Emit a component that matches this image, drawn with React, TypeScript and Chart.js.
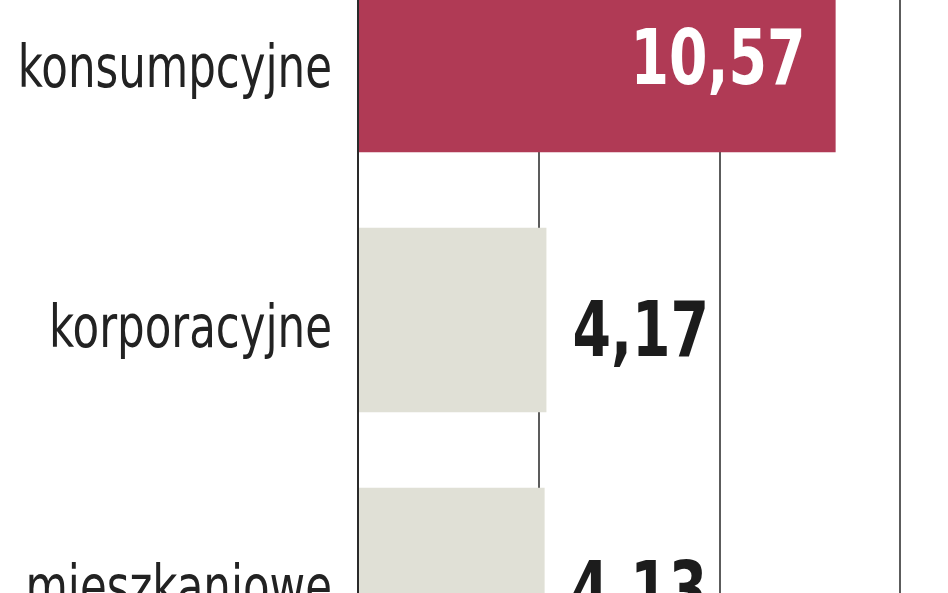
import { useEffect, useRef } from 'react';
import Chart from 'chart.js/auto';

// Loan types and their values
const categories = ['konsumpcyjne', 'korporacyjne', 'mieszkaniowe'];
const values = [10.57, 4.17, 4.13];
const xTicks = [0, 4, 8, 12];

const HIGHLIGHT = '#b03a55';
const PLAIN = '#e0e0d6';
const LABEL_FONT = '"DejaVu Sans Condensed", "DejaVu Sans", sans-serif';

// Category names left of the axis, squeezed to look like a condensed face
const categoryLabels = {
    id: 'categoryLabels',
    afterDraw(chart: any) {
        const ctx = chart.ctx;
        const yScale = chart.scales.y;
        const right = chart.chartArea.left - 26;
        const squeeze = 0.82;
        ctx.save();
        ctx.font = `59px ${LABEL_FONT}`;
        ctx.fillStyle = '#222222';
        ctx.textAlign = 'right';
        ctx.textBaseline = 'alphabetic';
        yScale.getLabels().forEach((label: string, i: number) => {
            const y = yScale.getPixelForTick(i);
            ctx.save();
            ctx.translate(right, y + 27);
            ctx.scale(squeeze, 1);
            ctx.fillText(label, 0, 0);
            ctx.restore();
        });
        ctx.restore();
    }
};

// Draws the value next to (or inside) each bar
const valueLabels = {
    id: 'valueLabels',
    afterDatasetsDraw(chart: any) {
        const ctx = chart.ctx;
        const meta = chart.getDatasetMeta(0);
        const squeeze = 0.81;
        ctx.save();
        ctx.font = `bold 76px ${LABEL_FONT}`;
        ctx.textBaseline = 'alphabetic';
        meta.data.forEach((bar: any, i: number) => {
            const text = values[i].toFixed(2).replace('.', ',');
            ctx.save();
            if (i === 0) {
                ctx.fillStyle = '#ffffff';
                ctx.textAlign = 'right';
                ctx.translate(bar.x - 30, bar.y + 24);
            } else {
                ctx.fillStyle = '#1c1c1c';
                ctx.textAlign = 'left';
                ctx.translate(bar.x + 26, bar.y + 36);
            }
            ctx.scale(squeeze, 1);
            ctx.fillText(text, 0, 0);
            ctx.restore();
        });
        ctx.restore();
    }
};

export default function App() {
    const chartRef = useRef<HTMLCanvasElement>(null);
    const chartInstance = useRef<Chart | null>(null);

    useEffect(() => {
        if (!chartRef.current) return;
        if (chartInstance.current) chartInstance.current.destroy();

        chartInstance.current = new Chart(chartRef.current, {
            type: 'bar',
            data: {
                labels: categories,
                datasets: [
                    {
                        data: values,
                        backgroundColor: values.map((_, i) => (i === 0 ? HIGHLIGHT : PLAIN)),
                        borderWidth: 0,
                        barPercentage: 0.71,
                        categoryPercentage: 1
                    }
                ]
            },
            options: {
                indexAxis: 'y',
                responsive: true,
                maintainAspectRatio: false,
                animation: false,
                layout: { padding: 0 },
                plugins: {
                    legend: { display: false },
                    tooltip: { enabled: false },
                    title: { display: false }
                },
                scales: {
                    x: {
                        min: 0,
                        max: 16,
                        afterFit: (scale: any) => {
                            scale.height = 0;
                            scale.paddingLeft = 0;
                            scale.paddingRight = 0;
                        },
                        afterBuildTicks: (scale: any) => {
                            scale.ticks = xTicks.map(v => ({ value: v }));
                        },
                        ticks: { display: false },
                        grid: {
                            color: '#5c5c5c',
                            lineWidth: 2,
                            drawTicks: false
                        },
                        border: { display: false }
                    },
                    y: {
                        afterFit: (scale: any) => {
                            scale.width = 358;
                            scale.paddingTop = 0;
                            scale.paddingBottom = 0;
                        },
                        ticks: { display: false },
                        grid: { display: false, drawTicks: false },
                        border: { display: true, color: '#2a2a2a', width: 2 }
                    }
                }
            },
            plugins: [valueLabels, categoryLabels]
        });

        return () => {
            if (chartInstance.current) {
                chartInstance.current.destroy();
                chartInstance.current = null;
            }
        };
    }, []);

    return (
        <div
            style={{
                position: 'fixed',
                left: 0,
                top: 0,
                width: 948,
                height: 593,
                overflow: 'hidden',
                background: '#ffffff'
            }}
        >
            <div style={{ position: 'absolute', left: 0, top: -70, width: 1081, height: 780 }}>
                <canvas ref={chartRef} />
            </div>
        </div>
    );
}
